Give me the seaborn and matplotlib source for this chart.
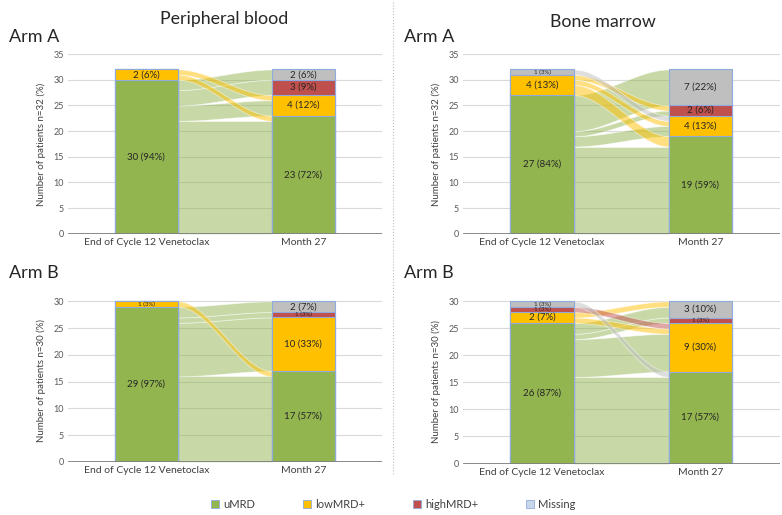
import numpy as np
import seaborn as sns
import matplotlib.pyplot as plt
from matplotlib.patches import Patch

sns.set_theme(style="white")
plt.rcParams['font.family'] = ['Lato', 'DejaVu Sans']

# categories and timepoints
states = ['uMRD', 'lowMRD+', 'highMRD+', 'Missing']
timepoints = ['End of Cycle 12 Venetoclax', 'Month 27']
state_colors = ['#92B550', '#FFC000', '#C0504D', '#BFBFBF']

# peripheral blood, arm A (n=32)
pb_a_start = [30, 2, 0, 0]
pb_a_start_pct = [94, 6, 0, 0]
pb_a_end = [23, 4, 3, 2]
pb_a_end_pct = [72, 12, 9, 6]
pb_a_flows = [[22, 3, 3, 2], [1, 1, 0, 0], [0, 0, 0, 0], [0, 0, 0, 0]]

# bone marrow, arm A (n=32)
bm_a_start = [27, 4, 0, 1]
bm_a_start_pct = [84, 13, 0, 3]
bm_a_end = [19, 4, 2, 7]
bm_a_end_pct = [59, 13, 6, 22]
bm_a_flows = [[17, 2, 1, 7], [2, 1, 1, 0], [0, 0, 0, 0], [0, 1, 0, 0]]

# peripheral blood, arm B (n=30)
pb_b_start = [29, 1, 0, 0]
pb_b_start_pct = [97, 3, 0, 0]
pb_b_end = [17, 10, 1, 2]
pb_b_end_pct = [57, 33, 3, 7]
pb_b_flows = [[16, 10, 1, 2], [1, 0, 0, 0], [0, 0, 0, 0], [0, 0, 0, 0]]

# bone marrow, arm B (n=30)
bm_b_start = [26, 2, 1, 1]
bm_b_start_pct = [87, 7, 3, 3]
bm_b_end = [17, 9, 1, 3]
bm_b_end_pct = [57, 30, 3, 10]
bm_b_flows = [[16, 7, 1, 2], [0, 1, 0, 1], [0, 1, 0, 0], [1, 0, 0, 0]]

BAR_W = 0.4
EDGE = '#8FAADC'


def ribbon(ax, x0, x1, lo0, hi0, lo1, hi1, color):
    t = np.linspace(0, 1, 80)
    s = 3 * t ** 2 - 2 * t ** 3
    xs = x0 + (x1 - x0) * t
    lo = lo0 + (lo1 - lo0) * s
    hi = hi0 + (hi1 - hi0) * s
    ax.fill_between(xs, lo, hi, color=color, alpha=0.5, lw=0.6,
                    edgecolor='white', zorder=2)


def draw_panel(ax, start, start_pct, end, end_pct, flows, n, ymax):
    flows = np.array(flows)
    start_base = np.concatenate([[0], np.cumsum(start)[:-1]])
    end_base = np.concatenate([[0], np.cumsum(end)[:-1]])

    # ribbons between the two bars
    src_off = start_base.astype(float).copy()
    tgt_off = end_base.astype(float).copy()
    out_pos = {}
    for i in range(4):
        for j in range(4):
            if flows[i, j]:
                out_pos[(i, j)] = src_off[i]
                src_off[i] += flows[i, j]
    in_pos = {}
    for j in range(4):
        for i in range(4):
            if flows[i, j]:
                in_pos[(i, j)] = tgt_off[j]
                tgt_off[j] += flows[i, j]
    for i in range(4):
        for j in range(4):
            f = flows[i, j]
            if f:
                a = out_pos[(i, j)]
                b = in_pos[(i, j)]
                ribbon(ax, BAR_W / 2, 1 - BAR_W / 2, a, a + f, b, b + f,
                       state_colors[i])

    # stacked bars: overlay cumulative heights from top down
    cum_start = np.cumsum(start)
    cum_end = np.cumsum(end)
    for k in range(3, -1, -1):
        sns.barplot(x=timepoints, y=[cum_start[k], cum_end[k]],
                    color=state_colors[k], saturation=1, width=BAR_W,
                    edgecolor=EDGE, linewidth=0.8, errorbar=None,
                    ax=ax, zorder=3)

    for xi, counts, pcts, base in [(0, start, start_pct, start_base),
                                   (1, end, end_pct, end_base)]:
        for k in range(4):
            if counts[k]:
                fs = 7 if counts[k] > 1 else 4.4
                ax.text(xi, base[k] + counts[k] / 2,
                        f"{counts[k]} ({pcts[k]}%)", ha='center',
                        va='center', fontsize=fs, color='#262626', zorder=4)

    ax.set_xlim(-0.5, 1.5)
    ax.set_ylim(0, ymax)
    ax.set_yticks(range(0, ymax + 1, 5))
    ax.yaxis.grid(True, color='#D9D9D9', lw=0.8, zorder=0)
    ax.set_axisbelow(True)
    ax.axhline(0, color='#7F7F7F', lw=2, zorder=5)
    for sp in ax.spines.values():
        sp.set_visible(False)
    ax.tick_params(axis='both', length=0, labelsize=6.5, colors='#595959',
                   pad=3)
    for lbl in ax.get_xticklabels():
        lbl.set_color('#404040')
        lbl.set_fontsize(7.5)
    ax.set_xlabel('')
    ax.set_ylabel(f'Number of patients n={n} (%)', fontsize=7,
                  color='#404040', labelpad=5)


fig = plt.figure(figsize=(7.82, 5.15), dpi=100)

ax_pa = fig.add_axes([0.087, 0.546, 0.401, 0.349])
ax_ba = fig.add_axes([0.592, 0.546, 0.405, 0.349])
ax_pb = fig.add_axes([0.087, 0.103, 0.401, 0.315])
ax_bb = fig.add_axes([0.592, 0.100, 0.405, 0.318])

draw_panel(ax_pa, pb_a_start, pb_a_start_pct, pb_a_end, pb_a_end_pct,
           pb_a_flows, 32, 35)
draw_panel(ax_ba, bm_a_start, bm_a_start_pct, bm_a_end, bm_a_end_pct,
           bm_a_flows, 32, 35)
draw_panel(ax_pb, pb_b_start, pb_b_start_pct, pb_b_end, pb_b_end_pct,
           pb_b_flows, 30, 30)
draw_panel(ax_bb, bm_b_start, bm_b_start_pct, bm_b_end, bm_b_end_pct,
           bm_b_flows, 30, 30)
for ax in (ax_pb, ax_bb):
    ax.set_ylim(0, 30.3)

fig.text(0.287, 0.963, 'Peripheral blood', ha='center', va='center',
         fontsize=12.8, color='#262626')
fig.text(0.771, 0.958, 'Bone marrow', ha='center', va='center',
         fontsize=12.8, color='#262626')
fig.text(0.011, 0.928, 'Arm A', ha='left', va='center', fontsize=13,
         color='#262626')
fig.text(0.517, 0.928, 'Arm A', ha='left', va='center', fontsize=13,
         color='#262626')
fig.text(0.011, 0.47, 'Arm B', ha='left', va='center', fontsize=13,
         color='#262626')
fig.text(0.517, 0.47, 'Arm B', ha='left', va='center', fontsize=13,
         color='#262626')

# dotted separator between the two columns
fig.add_artist(plt.Line2D([0.503, 0.503], [0.08, 1.0], color='#BFBFBF',
                          lw=0.8, ls=':', transform=fig.transFigure))

legend_faces = ['#92B550', '#FFC000', '#C0504D', '#C9D7EA']
handles = [Patch(facecolor=c, edgecolor=EDGE, lw=0.6, label=s)
           for c, s in zip(legend_faces, states)]
fig.legend(handles=handles, loc='center', bbox_to_anchor=(0.503, 0.02),
           ncol=4, frameon=False, fontsize=8, handlelength=0.7,
           handleheight=0.7, handletextpad=0.4, columnspacing=4.3,
           labelcolor='#404040')

fig.savefig('out.png', dpi=100)
